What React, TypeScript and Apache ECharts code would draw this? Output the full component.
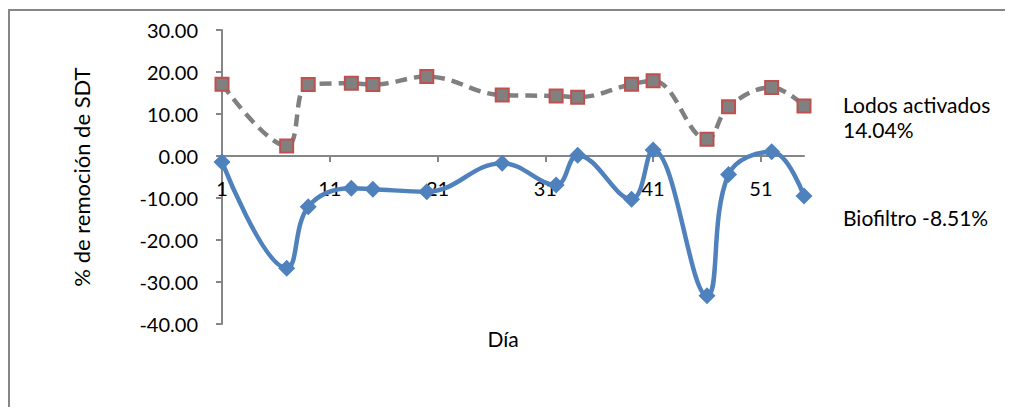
import React, { useEffect, useRef } from "react";
import * as echarts from "echarts";

const days = [1, 7, 9, 13, 15, 20, 27, 32, 34, 39, 41, 46, 48, 52, 55];
const lodosActivados = [17.1, 2.4, 17.0, 17.3, 17.0, 18.9, 14.5, 14.3, 14.0, 17.1, 17.9, 4.0, 11.7, 16.3, 11.9];
const biofiltro = [-1.4, -26.7, -12.1, -7.7, -7.9, -8.5, -1.7, -6.9, 0.2, -10.3, 1.4, -33.3, -4.4, 1.0, -9.5];
const xTickDays = [1, 11, 21, 31, 41, 51];
const yMin = -40;
const yMax = 30;
const yStep = 10;
const legendLodos = ["Lodos activados", "14.04%"];
const legendBio = "Biofiltro -8.51%";

const FONT = "Lato, 'Open Sans', sans-serif";

export default function App() {
  const ref = useRef<HTMLDivElement>(null);
  useEffect(() => {
    if (!ref.current) return;
    const chart = echarts.init(ref.current, null, { renderer: "svg" });
    const axisColor = "#868686";
    const gridTop = 22;
    const gridBottom = 83;
    const plotHeight = 399 - gridTop - gridBottom;
    const zeroOffset = -(plotHeight * (0 - yMin)) / (yMax - yMin);
    chart.setOption({
      animation: false,
      backgroundColor: "#ffffff",
      textStyle: { fontFamily: FONT },
      grid: { left: 214, right: 201, top: gridTop, bottom: gridBottom, containLabel: false, outerBoundsMode: "none" },
      xAxis: {
        type: "value",
        min: 1,
        max: 55,
        position: "bottom",
        offset: zeroOffset,
        name: "Día",
        nameLocation: "middle",
        nameGap: 172,
        nameTextStyle: { color: "#000", fontSize: 21, fontFamily: FONT, padding: [0, 20, 0, 0] },
        axisLine: { onZero: false, lineStyle: { color: axisColor, width: 2 } },
        axisTick: { show: true, length: 6, customValues: xTickDays, lineStyle: { color: axisColor, width: 2 } },
        axisLabel: {
          customValues: xTickDays,
          color: "#000",
          fontSize: 20,
          fontFamily: FONT,
          margin: 22,
        },
        splitLine: { show: false },
      },
      yAxis: {
        type: "value",
        min: yMin,
        max: yMax,
        interval: yStep,
        name: "% de remoción de SDT",
        nameLocation: "middle",
        nameRotate: 90,
        nameGap: 130,
        nameTextStyle: { color: "#000", fontSize: 22, fontFamily: FONT },
        axisLine: { show: true, onZero: false, lineStyle: { color: axisColor, width: 2 } },
        axisTick: { show: true, length: 6, lineStyle: { color: axisColor, width: 2 } },
        axisLabel: {
          color: "#000",
          fontSize: 20,
          fontFamily: FONT,
          margin: 24,
          formatter: (v: number) => v.toFixed(2),
        },
        splitLine: { show: false },
      },
      series: [
        {
          name: "Biofiltro",
          type: "line",
          smooth: 0.4,
          data: days.map((d, i) => [d, biofiltro[i]]),
          symbol: "diamond",
          symbolSize: 17,
          lineStyle: { color: "#4F81BD", width: 4.5 },
          itemStyle: { color: "#4F81BD" },
          z: 2,
        },
        {
          name: "Lodos activados",
          type: "line",
          smooth: 0.4,
          data: days.map((d, i) => [d, lodosActivados[i]]),
          symbol: "rect",
          symbolSize: 13,
          lineStyle: { color: "#808080", width: 4.5, type: [12, 7] },
          itemStyle: { color: "#808080", borderColor: "#C0504D", borderWidth: 2 },
          z: 3,
        },
      ],
      graphic: [
        {
          type: "rect",
          shape: { x: 1, y: 2, width: 3000, height: 3000 },
          style: { fill: "none", stroke: "#868686", lineWidth: 2 },
          silent: true,
        },
        {
          type: "text",
          left: 835,
          top: 84,
          style: {
            text: legendLodos.join("\n"),
            fontSize: 21,
            fontFamily: FONT,
            fill: "#000",
            lineHeight: 25,
          },
        },
        {
          type: "text",
          left: 835,
          top: 199,
          style: {
            text: legendBio,
            fontSize: 21,
            fontFamily: FONT,
            fill: "#000",
          },
        },
      ],
    });
    return () => chart.dispose();
  }, []);
  return <div ref={ref} style={{ width: 997, height: 399 }} />;
}
